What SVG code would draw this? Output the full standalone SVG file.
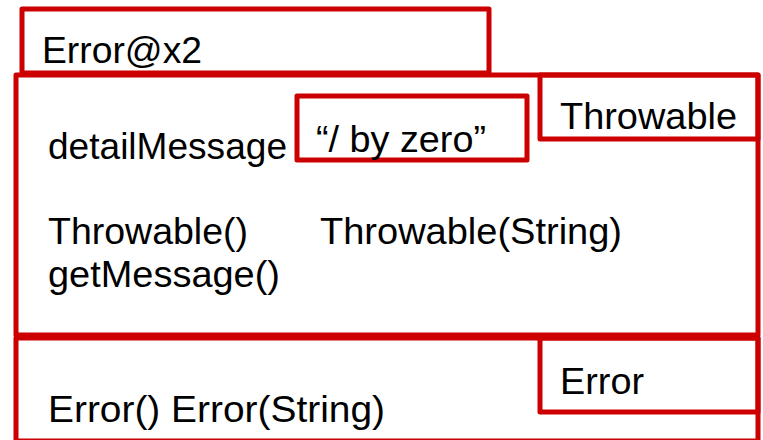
<svg xmlns="http://www.w3.org/2000/svg" width="763" height="440" viewBox="0 0 763 440">
<style>
.box{fill:none;stroke:#cc0000;stroke-width:5;stroke-linejoin:round}
text{font-family:"Liberation Sans",Arial,sans-serif;font-size:36px;fill:#000}
</style>
<rect width="763" height="440" fill="#fff"/>
<g id="error-x2">
<rect class="box" x="22" y="9" width="467" height="64"/>
<text x="42" y="63" textLength="160" lengthAdjust="spacingAndGlyphs">Error@x2</text>
</g>
<g id="throwable">
<rect class="box" x="16" y="75" width="742" height="260"/>
<rect class="box" x="540" y="75" width="218" height="64"/>
<text x="560" y="129" textLength="177" lengthAdjust="spacingAndGlyphs">Throwable</text>
<text x="48" y="159" textLength="239" lengthAdjust="spacingAndGlyphs">detailMessage</text>
<text x="48" y="244" textLength="200" lengthAdjust="spacingAndGlyphs">Throwable()</text>
<text x="320" y="244" textLength="302" lengthAdjust="spacingAndGlyphs">Throwable(String)</text>
<text x="48" y="287" textLength="232" lengthAdjust="spacingAndGlyphs">getMessage()</text>
</g>
<g id="detail-value">
<rect class="box" x="297" y="96" width="230" height="64"/>
<text x="316" y="152" textLength="170" lengthAdjust="spacingAndGlyphs">“/ by zero”</text>
</g>
<g id="error">
<rect class="box" x="16" y="338" width="742" height="103"/>
<rect class="box" x="540" y="338" width="218" height="74"/>
<text x="560" y="394" textLength="84" lengthAdjust="spacingAndGlyphs">Error</text>
<text x="48" y="422" textLength="337" lengthAdjust="spacingAndGlyphs">Error()  Error(String)</text>
</g>
<g id="connectors"/>
</svg>
